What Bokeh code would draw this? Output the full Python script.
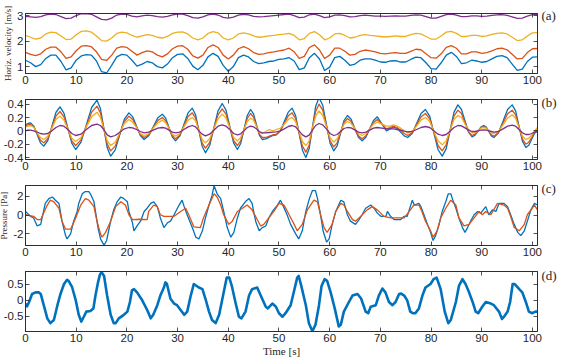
from bokeh.plotting import figure
from bokeh.models import Range1d, FixedTicker, LinearAxis, CustomJSTickFormatter
from bokeh.layouts import column
from bokeh.embed import file_html
from bokeh.resources import INLINE

# ---------------- data ----------------
x_ticks = [0, 10, 20, 30, 40, 50, 60, 70, 80, 90, 100]

# (a) horizontal velocity, sampled every second
ta = list(range(0, 102))
a_blue = [1.25,1.15,1.0,1.08,1.32,1.45,1.45,1.2,0.87,0.95,
 1.25,1.42,1.47,1.45,1.22,0.8,0.75,1.05,1.38,1.48,
 1.45,1.25,1.02,1.1,1.2,1.15,1.0,0.95,1.1,1.35,
 1.48,1.5,1.32,1.02,0.88,1.05,1.38,1.52,1.4,1.05,
 0.82,1.0,1.35,1.45,1.38,1.2,1.12,1.15,1.2,1.22,
 1.28,1.3,1.35,1.22,0.88,0.95,1.35,1.52,1.3,0.85,
 0.98,1.35,1.4,1.25,1.05,1.1,1.25,1.3,1.3,1.25,
 1.18,1.17,1.22,1.23,1.18,1.18,1.28,1.37,1.35,1.15,
 0.92,0.9,1.15,1.45,1.56,1.4,1.12,1.15,1.25,1.22,
 1.17,1.2,1.3,1.4,1.43,1.35,1.1,0.85,0.9,1.2,
 1.37,1.38]
a_orange = [1.56,1.48,1.43,1.5,1.68,1.76,1.76,1.58,1.32,1.38,
 1.62,1.8,1.82,1.78,1.58,1.28,1.24,1.45,1.72,1.78,
 1.75,1.6,1.45,1.55,1.62,1.58,1.45,1.38,1.5,1.7,
 1.8,1.82,1.68,1.42,1.33,1.45,1.75,1.85,1.75,1.45,
 1.3,1.45,1.7,1.78,1.7,1.55,1.48,1.5,1.55,1.58,
 1.62,1.65,1.72,1.58,1.32,1.4,1.75,1.85,1.65,1.32,
 1.45,1.72,1.72,1.6,1.45,1.48,1.6,1.65,1.62,1.58,
 1.52,1.5,1.53,1.55,1.52,1.52,1.6,1.68,1.66,1.5,
 1.35,1.33,1.5,1.75,1.82,1.72,1.5,1.5,1.58,1.58,
 1.52,1.55,1.62,1.7,1.72,1.66,1.48,1.3,1.32,1.55,
 1.7,1.71]
a_yellow = [2.22,2.15,2.08,2.12,2.28,2.35,2.33,2.2,2.06,2.08,
 2.25,2.38,2.4,2.35,2.2,2.02,2.0,2.12,2.3,2.35,
 2.32,2.22,2.15,2.2,2.25,2.22,2.15,2.12,2.18,2.3,
 2.35,2.36,2.28,2.12,2.05,2.12,2.3,2.37,2.32,2.12,
 2.05,2.12,2.28,2.32,2.28,2.2,2.15,2.17,2.2,2.22,
 2.25,2.27,2.3,2.22,2.05,2.1,2.3,2.37,2.25,2.05,
 2.12,2.28,2.3,2.22,2.12,2.15,2.22,2.25,2.22,2.2,
 2.18,2.16,2.18,2.2,2.18,2.18,2.25,2.3,2.28,2.18,
 2.08,2.08,2.2,2.35,2.38,2.3,2.18,2.18,2.22,2.22,
 2.18,2.2,2.26,2.3,2.32,2.28,2.15,2.02,2.05,2.2,
 2.32,2.33]
a_purple = [2.97,2.95,2.93,2.96,3.03,3.06,3.04,2.96,2.88,2.9,
 3.0,3.07,3.08,3.05,2.95,2.85,2.83,2.9,3.02,3.06,
 3.05,2.98,2.95,2.99,3.02,3.0,2.96,2.94,2.97,3.03,
 3.06,3.06,3.0,2.92,2.9,2.95,3.03,3.06,3.02,2.93,
 2.9,2.94,3.02,3.05,3.03,2.97,2.95,2.96,2.98,3.0,
 3.02,3.04,3.06,3.0,2.92,2.94,3.03,3.06,3.0,2.92,
 2.95,3.02,3.03,3.0,2.95,2.96,3.0,3.02,3.0,2.98,
 2.98,2.97,2.98,2.99,2.98,2.98,3.01,3.03,3.02,2.96,
 2.9,2.9,2.97,3.04,3.06,3.02,2.96,2.96,2.99,2.99,
 2.97,2.98,3.01,3.03,3.04,3.01,2.95,2.89,2.9,2.98,
 3.04,3.04]

# (b) velocity fluctuations
tb = [0,0.5,1,1.65,2.3,2.95,3.6,4.4,5.2,6.0,
 6.8,7.58,8.35,9.13,9.9,10.95,12.0,13.05,14.1,14.78,
 15.45,16.13,16.8,17.7,18.6,19.5,20.4,21.15,21.9,22.65,
 23.4,24.3,25.2,26.1,27,27.65,28.3,28.95,29.6,30.43,
 31.25,32.08,32.9,33.55,34.2,34.85,35.5,36.33,37.15,37.98,
 38.8,39.55,40.3,41.05,41.8,42.45,43.1,43.75,44.4,44.98,
 45.55,46.13,46.7,47.4,48.1,48.8,49.5,50.28,51.05,51.83,
 52.6,53.28,53.95,54.63,55.3,55.95,56.6,57.25,57.9,58.63,
 59.35,60.08,60.8,61.48,62.15,62.83,63.5,64.23,64.95,65.68,
 66.4,67.15,67.9,68.65,69.4,70.3,71.2,71.9,72.6,73.3,
 74.0,74.7,75.4,76.28,77.15,78.03,78.9,79.73,80.55,81.38,
 82.2,82.98,83.75,84.53,85.3,86.0,86.7,87.4,88.1,88.68,
 89.25,89.83,90.4,90.9,91.4,91.9,92.4,93.3,94.2,95.1,
 96,96.68,97.35,98.03,98.7,99.28,99.85,100.43,101]
b_blue = [.09,.11,.12,.07,-.055,-.18,-.23,-.145,.065,.275,
 .36,.265,.04,-.185,-.28,-.17,.09,.35,.46,.335,
 .04,-.255,-.38,-.285,-.055,.175,.27,.21,.07,-.07,
 -.13,-.075,.06,.195,.25,.19,.05,-.09,-.15,-.08,
 .095,.27,.34,.24,.005,-.23,-.33,-.22,.04,.3,
 .41,.31,.065,-.18,-.28,-.19,.02,.23,.32,.255,
 .095,-.065,-.13,-.12,-.095,-.07,-.06,0,.14,.28,
 .34,.23,-.03,-.29,-.4,-.27,.05,.37,.5,.385,
 .1,-.185,-.3,-.225,-.035,.155,.23,.175,.04,-.095,
 -.15,-.095,.03,.155,.21,.105,0,.03,.06,.035,
 -.02,-.075,-.1,-.04,.11,.26,.32,.22,-.03,-.28,
 -.38,-.27,.005,.28,.39,.32,.15,-.02,-.09,-.065,
 -.005,.055,.08,.055,-.01,-.075,-.1,-.03,.145,.32,
 .39,.3,.07,-.155,-.25,-.215,-.125,-.035,0]
b_orange = [.08,.09,.1,.06,-.04,-.14,-.18,-.115,.05,.22,
 .29,.21,.03,-.15,-.22,-.135,.07,.28,.37,.27,
 .03,-.2,-.3,-.23,-.045,.14,.22,.17,.055,-.055,
 -.1,-.06,.05,.155,.2,.15,.04,-.07,-.12,-.065,
 .075,.215,.27,.19,.005,-.185,-.26,-.175,.03,.24,
 .33,.25,.05,-.145,-.22,-.15,.015,.185,.26,.205,
 .075,-.05,-.1,-.1,-.08,-.06,-.05,0,.11,.225,
 .27,.185,-.025,-.23,-.32,-.215,.04,.295,.4,.31,
 .08,-.15,-.24,-.18,-.03,.125,.185,.14,.03,-.075,
 -.12,-.075,.025,.125,.17,.1,.03,.05,.07,.05,
 .01,-.04,-.07,-.03,.09,.21,.26,.18,-.02,-.22,
 -.3,-.21,.005,.22,.31,.26,.12,-.015,-.07,-.05,
 0,.045,.065,.045,-.005,-.06,-.08,-.025,.115,.255,
 .31,.24,.055,-.125,-.2,-.17,-.1,-.02,.02]
b_yellow = [.06,.07,.08,.05,-.03,-.1,-.13,-.08,.04,.17,
 .22,.16,.03,-.11,-.16,-.1,.06,.21,.28,.2,
 .03,-.15,-.22,-.17,-.03,.11,.17,.13,.05,-.04,
 -.07,-.04,.04,.12,.16,.12,.04,-.05,-.08,-.04,
 .06,.16,.2,.15,.01,-.13,-.18,-.12,.03,.18,
 .25,.19,.05,-.1,-.15,-.1,.02,.14,.19,.16,
 .07,-.02,-.04,-.01,.02,0,.02,.04,.1,.17,
 .2,.14,-.01,-.16,-.22,-.15,.04,.22,.3,.23,
 .07,-.1,-.17,-.12,-.01,.1,.14,.11,.04,-.04,
 -.07,-.04,.03,.1,.13,.1,.07,.07,.09,.07,
 .04,0,-.03,-.01,.07,.16,.2,.14,-.01,-.15,
 -.21,-.15,.01,.17,.23,.2,.1,.02,-.03,-.03,
 .01,.04,.05,.04,.01,-.03,-.04,-.01,.09,.19,
 .24,.19,.05,-.08,-.13,-.11,-.06,0,.05]
b_purple = [0,.01,.01,0,-.02,-.04,-.05,-.04,0,.05,
 .08,.07,.02,-.04,-.07,-.05,.02,.08,.1,.08,
 .02,-.06,-.09,-.07,-.02,.03,.05,.045,.02,-.01,
 -.03,-.02,.01,.04,.05,.04,.01,-.02,-.03,-.02,
 .02,.06,.08,.06,0,-.05,-.075,-.05,.01,.07,
 .09,.07,.02,-.04,-.06,-.045,0,.05,.07,.06,
 .03,-.01,-.03,-.03,-.025,-.02,-.015,0,.03,.065,
 .08,.06,0,-.06,-.09,-.065,.01,.08,.11,.09,
 .03,-.04,-.07,-.055,-.01,.035,.05,.045,.015,-.02,
 -.03,-.02,.01,.04,.05,.04,.03,.03,.03,.02,
 .01,-.005,-.015,-.01,.02,.05,.065,.05,0,-.05,
 -.07,-.055,-.005,.05,.08,.075,.045,.01,-.01,-.01,
 0,.01,.015,.01,0,-.01,-.02,-.01,.03,.07,
 .085,.07,.02,-.03,-.055,-.055,-.04,-.02,-.01]

# (c) pressure
tc_blue = [0,1.0,1.6,2.3,3.0,3.9,4.6,5.3,5.9,6.6,
 7.2,7.9,8.2,8.9,9.5,10.2,10.5,11.2,11.8,12.5,
 12.8,13.5,13.8,14.3,14.8,15.5,16.0,16.8,17.4,18.1,
 18.8,19.4,20.1,20.4,21.1,21.4,22.0,22.7,23.4,24.0,
 24.7,25.3,26.0,26.6,27.3,28.0,28.6,29.3,30.3,30.9,
 31.3,31.9,32.9,33.6,34.2,34.9,35.5,36.2,36.8,37.2,
 37.8,38.5,39.1,39.8,40.5,41.1,41.8,42.4,43.4,44.1,
 44.7,45.0,45.4,46.1,46.7,47.4,48.0,48.7,49.7,50.3,
 50.9,51.6,52.3,53.3,53.9,54.6,55.3,56.0,56.6,57.2,
 57.6,58.2,58.7,59.4,59.9,60.5,61.2,62.2,62.8,63.5,
 64.1,65.1,65.8,66.4,67.1,68.1,68.8,69.4,70.1,71.1,
 71.4,72.0,72.7,74.0,74.7,75.3,75.7,76.3,76.7,77.6,
 78.0,78.6,79.3,79.9,80.4,80.9,81.6,82.2,82.9,83.4,
 83.9,84.2,84.9,85.5,86.2,86.7,87.2,87.8,88.5,89.2,
 89.8,90.8,91.4,92.1,92.8,93.4,94.4,95.1,95.7,96.4,
 97.1,97.7,98.4,99.0,99.7,100.4,101.0]
c_blue = [.38,-.14,-.31,-1.16,-1.0,1.23,1.74,1.91,1.57,1.23,
 -.65,-2.18,-2.53,-2.0,-.65,.38,1.23,2.25,2.49,2.49,
 2.25,1.43,.38,-1.33,-2.53,-3.21,-2.7,-.65,.55,1.43,
 1.91,1.74,1.4,.38,-.82,-1.67,-1.16,-.65,.38,.72,
 1.23,1.4,.89,-.31,-1.33,-.82,-.65,.03,1.06,1.57,
 .89,0,-1.33,-2.35,-2.53,-1.67,-.31,1.06,2.08,3.11,
 2.25,1.74,.38,-1.33,-2.35,-1.84,-.31,.72,1.43,1.74,
 1.23,.38,-.65,-1.67,-1.33,-1.16,-.31,.38,1.06,1.57,
 .89,.03,-.99,-2.0,-2.53,-1.67,.38,1.74,2.59,2.59,
 1.74,.03,-1.67,-2.87,-2.53,-.99,.38,1.57,1.4,.03,
 -.65,-.99,-.48,.03,.72,1.06,.7,.2,-.14,-.14,
 .38,-.14,-.48,-.48,-.14,-.14,.55,1.57,1.06,1.23,
 .89,.03,-.99,-1.84,-2.7,-2.18,-.99,.38,1.4,2.25,
 2.25,1.74,.72,-.31,-1.33,-1.84,-1.33,-.65,.03,.38,
 .2,.89,.03,.55,.38,1.23,1.23,.89,.03,-.99,
 -1.84,-2.18,-1.67,-.65,.55,1.23,1.06]
tc_orange = [0,1.6,2.3,3.0,4.3,4.9,5.6,6.6,7.2,7.9,
 8.9,9.9,10.9,11.8,12.5,13.5,14.1,14.8,15.1,15.8,
 16.8,17.8,18.8,19.7,20.4,21.1,22.5,24.0,24.3,25.3,
 26.0,26.6,27.3,29.3,30.6,31.6,32.2,33.2,34.5,35.1,
 36.2,37.2,37.8,38.5,39.1,40.1,40.8,41.8,42.8,43.7,
 44.7,45.7,46.4,47.0,48.0,49.0,50.0,51.0,52.0,53.0,
 53.6,54.6,55.6,56.9,57.6,58.2,58.9,59.5,60.5,61.2,
 62.2,62.8,63.5,64.5,65.1,66.1,67.4,68.4,69.4,70.7,
 72.0,74.7,75.7,76.6,77.6,78.2,78.9,79.9,80.4,81.2,
 81.9,82.9,83.9,84.9,85.5,86.5,87.5,88.5,89.5,90.1,
 90.8,91.8,93.1,94.4,95.1,95.7,96.4,97.4,98.4,99.0,
 100.4,101.0]
c_orange = [.03,-.14,-.48,-.48,1.06,1.57,1.4,.72,-.65,-1.5,
 -1.5,-.31,1.06,1.74,1.57,.89,-.65,-2.0,-2.35,-1.84,
 -.65,.89,1.4,1.06,.03,-.48,-.45,-.48,.38,1.06,
 .89,.03,-.14,-.14,.38,.72,.03,-1.25,-1.33,-.31,
 1.06,2.25,1.91,1.06,.03,-.99,-.65,.38,.72,1.06,
 .55,-.48,-1.16,-.99,-.31,.38,1.23,1.06,.03,-.99,
 -1.67,-.99,.55,1.57,1.4,.03,-1.33,-1.84,-.99,.38,
 1.23,1.06,.38,-.48,-.65,-.14,.55,.89,.55,-.14,
 -.31,-.31,.38,1.06,1.06,.38,-.65,-1.67,-2.35,-1.67,
 -.31,.72,1.57,1.06,-.31,-1.16,-.99,-.31,.38,.03,
 .38,.03,1.23,1.06,.72,-.14,-1.33,-1.67,-.99,.03,
 1.06,.55]

# (d)
td = [0,0.3,0.7,1.3,2,2.6,3,3.6,4.3,4.9,
 5.6,6.3,6.9,7.6,8.2,8.5,9.2,9.9,10.5,11,
 11.5,12,12.8,13.4,13.8,14.3,14.7,15,15.5,16.1,
 16.8,17.4,17.8,18.4,19.4,20.1,20.6,21,21.4,22,
 23,24,24.7,25.2,26,26.6,27.3,27.6,27.9,28.6,
 29.3,29.9,30.6,31.3,31.9,32.6,33.2,34.2,34.9,35.5,
 36.2,36.8,37.5,38.2,39.1,39.7,40.2,40.7,41.4,42.1,
 42.6,43.4,44.1,44.7,45.7,46.4,47.4,47.8,48.7,49.4,
 50,50.7,51.3,52.3,53,53.6,53.9,54.4,55.3,55.9,
 56.6,57.2,57.9,58.4,59,59.5,60.2,61,61.8,62.2,
 62.8,63.8,64.5,65.5,66.2,67.1,67.6,68.1,69.1,69.7,
 70.4,71,71.7,72.4,73,73.7,74.1,74.7,75.3,75.9,
 76.4,76.9,77.6,78.3,78.9,79.9,80.5,81.1,81.9,82.7,
 83.4,83.9,84.9,85.5,86.2,86.8,87.5,88.2,88.8,89.3,
 90.1,90.8,91.8,92.4,93.4,94,94.4,95.1,95.6,96.1,
 96.5,97.4,98,98.7,99.3,99.9,100.6,101]
d_blue = [-.11,-.2,-.06,.19,.24,.24,.19,-.16,-.57,-.72,
 -.62,-.16,.19,.5,.63,.6,.4,0,-.46,-.67,
 -.52,-.36,-.34,-.26,.14,.55,.8,.87,.75,.14,
 -.46,-.72,-.72,-.57,-.46,-.36,-.06,.3,.34,.24,
 0,-.31,-.57,-.46,-.16,.14,.39,.55,.5,.04,
 -.11,-.16,-.31,-.46,-.36,.14,.5,.39,.34,.04,
 -.36,-.62,-.72,-.46,.24,.7,.7,.44,-.06,-.52,
 -.57,-.36,.14,.34,.39,.14,-.21,-.26,-.11,-.21,
 -.41,-.52,-.41,-.16,.3,.7,.75,.44,-.16,-.72,
 -.97,-.77,-.16,.44,.65,.6,.24,-.26,-.82,-.77,
 -.36,-.06,.14,.19,.05,-.36,-.41,-.21,-.16,.14,
 .36,.24,-.06,-.16,-.06,.19,.2,.14,-.01,-.36,
 -.41,-.41,-.26,.14,.39,.5,.65,.7,.34,-.36,
 -.72,-.62,-.06,.44,.65,.5,.24,-.06,-.36,-.41,
 -.21,-.06,-.11,-.16,-.36,-.59,-.52,-.36,-.06,.5,
 .5,.34,.24,-.06,-.36,-.41,-.36,-.36]

a_ticks = [1, 2, 3]
b_ticks = [-0.4, -0.2, 0, 0.2, 0.4]
c_ticks = [-2, 0, 2]
d_ticks = [-0.5, 0, 0.5]

BLUE, ORANGE, YELLOW, PURPLE = "#0072BD", "#D95319", "#EDB120", "#7E2F8E"
INK = "#262626"
TICK_FONT = "Liberation Sans"
SERIF = "Liberation Serif"

num_fmt = "return String(Math.round(tick*10)/10);"


def style_axis(ax, ticks, show_labels=True):
    ax.ticker = FixedTicker(ticks=ticks)
    ax.axis_line_color = INK
    ax.axis_line_width = 0.8
    ax.major_tick_line_color = INK
    ax.major_tick_line_width = 0.8
    ax.major_tick_in = 4
    ax.major_tick_out = 0
    ax.minor_tick_line_color = None
    ax.major_label_text_color = INK
    ax.major_label_text_font = TICK_FONT
    ax.major_label_text_font_size = "11.5px"
    ax.major_label_standoff = 2 if show_labels else 0
    ax.formatter = CustomJSTickFormatter(code=num_fmt if show_labels else 'return "";')


def make_panel(yr, yticks, tag, tag_y, top_border, bottom_border, ylabel=None, xlabel=None):
    p = figure(frame_width=512, frame_height=60,
               x_range=Range1d(0, 101), y_range=Range1d(*yr),
               output_backend="svg", toolbar_location=None,
               min_border_left=45, min_border_right=29,
               min_border_top=top_border, min_border_bottom=bottom_border)
    p.outline_line_color = INK
    p.outline_line_width = 0.8
    p.xgrid.visible = False
    p.ygrid.visible = False
    bottom_ax = p.below[0]
    left_ax = p.left[0]
    style_axis(bottom_ax, x_ticks)
    style_axis(left_ax, yticks)
    top = LinearAxis()
    style_axis(top, x_ticks, show_labels=False)
    p.add_layout(top, "above")
    right = LinearAxis()
    style_axis(right, yticks, show_labels=False)
    p.add_layout(right, "right")
    tag_ax = LinearAxis(ticker=FixedTicker(ticks=[tag_y]),
                        formatter=CustomJSTickFormatter(code='return "%s";' % tag))
    tag_ax.axis_line_color = None
    tag_ax.major_tick_line_color = None
    tag_ax.minor_tick_line_color = None
    tag_ax.major_tick_in = 0
    tag_ax.major_tick_out = 0
    tag_ax.major_label_standoff = 4
    tag_ax.major_label_text_font = SERIF
    tag_ax.major_label_text_font_size = "13px"
    tag_ax.major_label_text_color = INK
    p.add_layout(tag_ax, "right")
    if ylabel:
        left_ax.axis_label = ylabel
        left_ax.axis_label_text_font = SERIF
        left_ax.axis_label_text_font_size = "9px"
        left_ax.axis_label_text_font_style = "normal"
        left_ax.axis_label_text_color = INK
        left_ax.axis_label_standoff = 1
    if xlabel:
        bottom_ax.axis_label = xlabel
        bottom_ax.axis_label_text_font = SERIF
        bottom_ax.axis_label_text_font_size = "11px"
        bottom_ax.axis_label_text_font_style = "normal"
        bottom_ax.axis_label_text_color = INK
        bottom_ax.axis_label_standoff = 0
    return p


pa = make_panel((0.73, 3.08), a_ticks, "(a)", 3.0, 13, 21, ylabel="Horiz. velocity [m/s]")
for ys, c in ((a_blue, BLUE), (a_orange, ORANGE), (a_yellow, YELLOW), (a_purple, PURPLE)):
    pa.line(ta, ys, line_color=c, line_width=1.3, line_join="round")

pb = make_panel((-0.43, 0.47), b_ticks, "(b)", 0.42, 5, 21)
for ys, c in ((b_blue, BLUE), (b_orange, ORANGE), (b_yellow, YELLOW), (b_purple, PURPLE)):
    pb.line(tb, ys, line_color=c, line_width=1.3, line_join="round")

pc = make_panel((-3.23, 3.13), c_ticks, "(c)", 2.8, 5, 21, ylabel="Pressure [Pa]")
pc.line(tc_blue, c_blue, line_color=BLUE, line_width=1.3)
pc.line(tc_orange, c_orange, line_color=ORANGE, line_width=1.3)

pd_ = make_panel((-0.98, 0.89), d_ticks, "(d)", 0.76, 5, 10, xlabel="Time [s]")
pd_.line(td, d_blue, line_color=BLUE, line_width=2.6, line_join="round")

layout = column(pa, pb, pc, pd_, margin=(0, 0, 0, -20))

open("out.html", "w").write(file_html(layout, INLINE))
